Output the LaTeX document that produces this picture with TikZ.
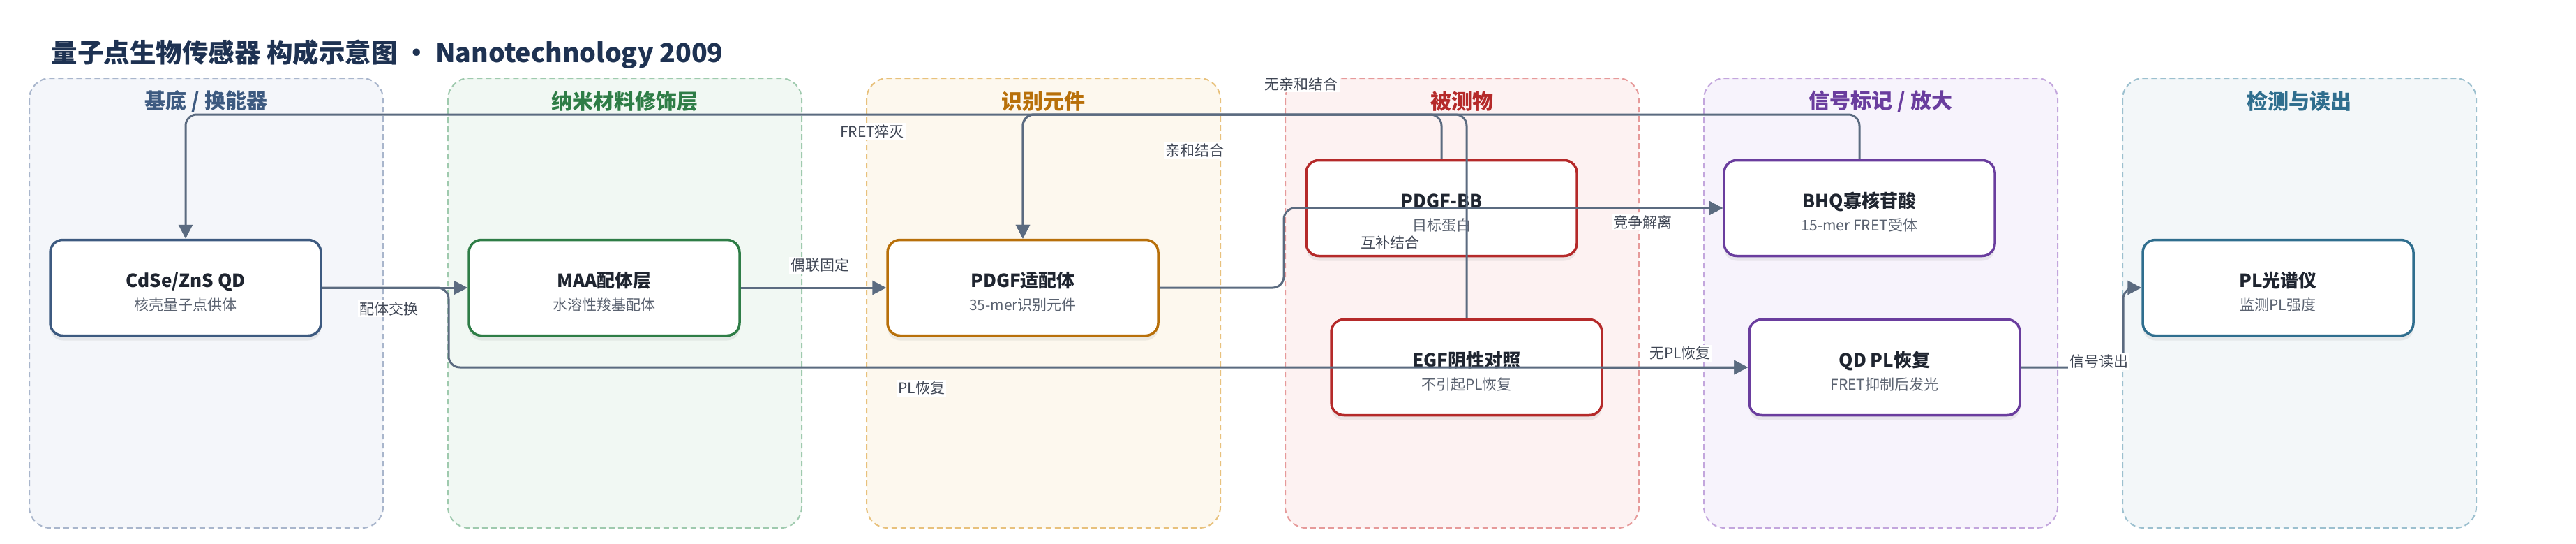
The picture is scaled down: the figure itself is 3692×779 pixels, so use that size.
\documentclass[tikz,border=0pt]{standalone}
\usepackage{fontspec}
\setmainfont{Noto Sans CJK SC}
\usetikzlibrary{arrows.meta,shadows}

\definecolor{bgA}{HTML}{F4F6FA}\definecolor{lnA}{HTML}{A9B6CC}\definecolor{txA}{HTML}{3D5A80}
\definecolor{bgB}{HTML}{F1F8F3}\definecolor{lnB}{HTML}{9FCAAE}\definecolor{txB}{HTML}{2E7D46}
\definecolor{bgC}{HTML}{FDF8EE}\definecolor{lnC}{HTML}{E8C17C}\definecolor{txC}{HTML}{B8700A}
\definecolor{bgD}{HTML}{FDF2F2}\definecolor{lnD}{HTML}{E69A9A}\definecolor{txD}{HTML}{B52A2A}
\definecolor{bgE}{HTML}{F7F3FC}\definecolor{lnE}{HTML}{C3A6DD}\definecolor{txE}{HTML}{6A3D9E}
\definecolor{bgF}{HTML}{F3F7F9}\definecolor{lnF}{HTML}{9CC0CF}\definecolor{txF}{HTML}{2F6E8E}
\definecolor{edgec}{HTML}{5B6B80}
\definecolor{headtxt}{HTML}{1E3252}
\definecolor{nodetxt}{HTML}{1F2530}
\definecolor{subtxt}{HTML}{5A6270}
\definecolor{lbltxt}{HTML}{3F4654}

\newcommand{\boxtext}[2]{{\fontsize{26}{29}\selectfont\bfseries\rule{0pt}{33pt}#1}\\[4pt]{\color{subtxt}#2}}

\begin{document}
\begin{tikzpicture}[x=1pt, y=-1pt,
  panel/.style={line width=2pt, dash pattern=on 8pt off 5pt, rounded corners=30pt},
  paneltitle/.style={font=\fontsize{30}{34}\selectfont\bfseries},
  box/.style={line width=3.5pt, rounded corners=18pt, fill=white, text=nodetxt,
    minimum width=388pt, minimum height=137pt, align=center,
    font=\fontsize{21}{29}\selectfont,
    drop shadow={shadow xshift=0pt, shadow yshift=-7pt, opacity=.13}},
  edge/.style={draw=edgec, line width=3pt, rounded corners=16pt,
    -{Triangle[length=20pt,width=20pt]}},
  lbl/.style={fill=white, inner sep=2pt, text=lbltxt, font=\fontsize{21}{25}\selectfont}]
  \useasboundingbox (0,0) rectangle (3692,779);
  % title
  \node[anchor=west, text=headtxt, font=\fontsize{37.5}{42}\selectfont\bfseries] (title)
    at (70,78) {量子点生物传感器 构成示意图 · Nanotechnology 2009};
  % panels
  \foreach \i/\t/\c in {0/{基底 / 换能器}/A, 1/纳米材料修饰层/B, 2/识别元件/C,
                        3/被测物/D, 4/{信号标记 / 放大}/E, 5/检测与读出/F} {
    \draw[panel, draw=ln\c, fill=bg\c] (42+600*\i,112) rectangle ++(507,644);
    \node[paneltitle, text=tx\c] (p\i) at (295.5+600*\i,145) {\t};
  }
  % components
  \node[box, draw=txA] (qd)   at (266,412)  {\boxtext{CdSe/ZnS QD}{核壳量子点供体}};
  \node[box, draw=txB] (maa)  at (866,412)  {\boxtext{MAA配体层}{水溶性羧基配体}};
  \node[box, draw=txC] (apt)  at (1466,412) {\boxtext{PDGF适配体}{35-mer识别元件}};
  \node[box, draw=txD] (bb)   at (2066,298) {\boxtext{PDGF-BB}{目标蛋白}};
  \node[box, draw=txD] (egf)  at (2102,526) {\boxtext{EGF阴性对照}{不引起PL恢复}};
  \node[box, draw=txE] (bhq)  at (2665,298) {\boxtext{BHQ寡核苷酸}{15-mer FRET受体}};
  \node[box, draw=txE] (qdpl) at (2701,526) {\boxtext{QD PL恢复}{FRET抑制后发光}};
  \node[box, draw=txF] (spec) at (3265,412) {\boxtext{PL光谱仪}{监测PL强度}};
  % bends
  \coordinate (top) at (0,164);
  \coordinate (jq) at (643,0);
  \coordinate (ja) at (1840,0);
  \coordinate (jr) at (3043,0);
  % connectors
  \draw[edge] (qd.east) -- (maa.west);
  \draw[edge] (maa.east) -- (apt.west);
  \draw[edge] (apt.east) -| (ja |- bhq.west) -- (bhq.west);
  \draw[edge] (bb.east) -- (bhq.west);
  \draw[edge] (bb.north) -- (bb.north |- top) -| (apt.north);
  \draw[edge] (egf.north) -- (egf.north |- top) -| (apt.north);
  \draw[edge] (bhq.north) -- (bhq.north |- top) -| (qd.north);
  \draw[edge] (qd.east) -| (jq |- qdpl.west) -- (qdpl.west);
  \draw[edge] (egf.east) -- (qdpl.west);
  \draw[edge] (qdpl.east) -| (jr |- spec.west) -- (spec.west);
  % labels
  \node[lbl] (l1)  at (557,442)  {配体交换};
  \node[lbl] (l2)  at (1175,380) {偶联固定};
  \node[lbl] (l3)  at (1992,347) {互补结合};
  \node[lbl] (l4)  at (2354,318) {竞争解离};
  \node[lbl] (l5)  at (1712,215) {亲和结合};
  \node[lbl] (l6)  at (1865,120) {无亲和结合};
  \node[lbl] (l7)  at (1250,188) {FRET猝灭};
  \node[lbl] (l8)  at (1321,556) {PL恢复};
  \node[lbl] (l9)  at (2408,506) {无PL恢复};
  \node[lbl] (l10) at (3008,518) {信号读出};
\end{tikzpicture}
\end{document}
